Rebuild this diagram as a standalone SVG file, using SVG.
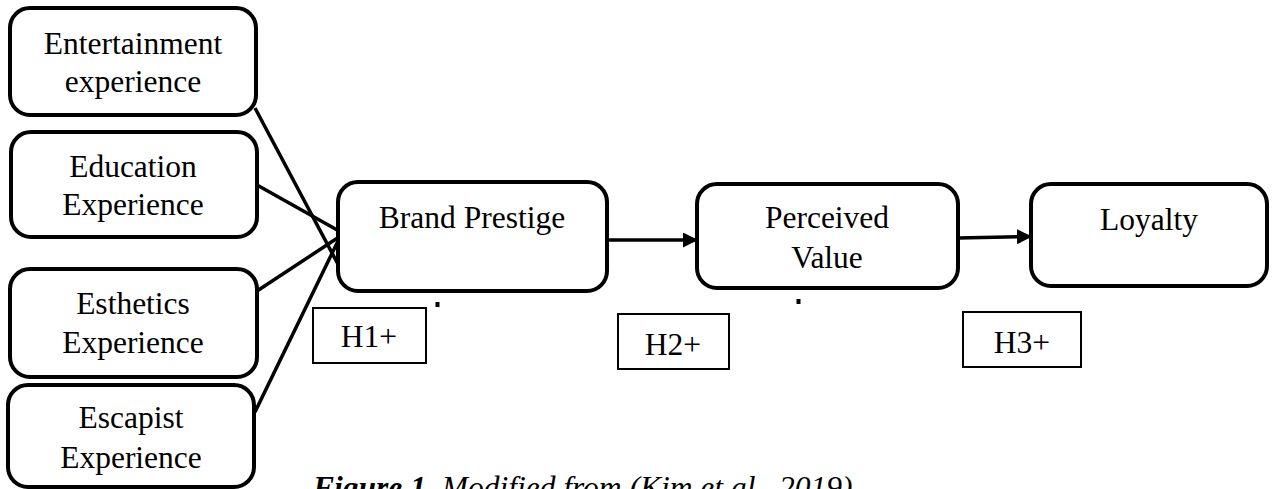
<svg xmlns="http://www.w3.org/2000/svg" width="1273" height="489" viewBox="0 0 1273 489">
<style>
.node{fill:#fff;stroke:#000;stroke-width:4}
.hbox{fill:#fff;stroke:#000;stroke-width:2}
.t{font-family:"Liberation Serif","Times New Roman",serif;font-size:31.5px;fill:#000;text-anchor:middle}
.c{font-family:"Liberation Serif","Times New Roman",serif;font-size:31.5px;fill:#000;font-style:italic}
.ln{stroke:#000;stroke-width:3.5;fill:none}
</style>
<defs>
<marker id="ah" markerWidth="15" markerHeight="15" refX="14" refY="7.5" orient="auto" markerUnits="userSpaceOnUse">
<path d="M0,0 L15,7.5 L0,15 Z" fill="#000"/>
</marker>
</defs>
<rect width="1273" height="489" fill="#fff"/>
<g id="connectors">
<line class="ln" x1="255" y1="108" x2="340" y2="268"/>
<line class="ln" x1="257" y1="185" x2="339" y2="231"/>
<line class="ln" x1="257" y1="291" x2="339" y2="237"/>
<line class="ln" x1="255" y1="412" x2="339" y2="239"/>
<line class="ln" x1="607" y1="240" x2="697" y2="240" marker-end="url(#ah)"/>
<line class="ln" x1="958" y1="238" x2="1031" y2="236.5" marker-end="url(#ah)"/>
</g>
<g id="entertainment">
<rect class="node" x="10" y="8" width="246" height="107" rx="20"/>
<text class="t" x="133" y="54">Entertainment</text>
<text class="t" x="133" y="92">experience</text>
</g>
<g id="education">
<rect class="node" x="11" y="132" width="246" height="105" rx="20"/>
<text class="t" x="133" y="177">Education</text>
<text class="t" x="133" y="215">Experience</text>
</g>
<g id="esthetics">
<rect class="node" x="10" y="269" width="247" height="108" rx="20"/>
<text class="t" x="133" y="314">Esthetics</text>
<text class="t" x="133" y="353">Experience</text>
</g>
<g id="escapist">
<rect class="node" x="8" y="385" width="246" height="102" rx="20"/>
<text class="t" x="131" y="428">Escapist</text>
<text class="t" x="131" y="468">Experience</text>
</g>
<g id="brand-prestige">
<rect class="node" x="338" y="182" width="269" height="109" rx="20"/>
<text class="t" x="472" y="228">Brand Prestige</text>
<rect x="435.5" y="302" width="4" height="5" fill="#000"/>
</g>
<g id="perceived-value">
<rect class="node" x="697" y="184" width="261" height="104" rx="20"/>
<text class="t" x="827" y="228">Perceived</text>
<text class="t" x="827" y="268">Value</text>
<rect x="796.5" y="299" width="4" height="5" fill="#000"/>
</g>
<g id="loyalty">
<rect class="node" x="1031" y="184" width="236" height="102" rx="20"/>
<text class="t" x="1149" y="230">Loyalty</text>
</g>
<g id="h1">
<rect class="hbox" x="313" y="308" width="113" height="55"/>
<text class="t" x="369" y="347">H1+</text>
</g>
<g id="h2">
<rect class="hbox" x="618" y="314" width="111" height="55"/>
<text class="t" x="673" y="355">H2+</text>
</g>
<g id="h3">
<rect class="hbox" x="963" y="312" width="118" height="55"/>
<text class="t" x="1022" y="353">H3+</text>
</g>
<g id="caption">
<text class="c" x="313" y="498"><tspan font-weight="bold">Figure 1.</tspan> Modified from (Kim et al., 2019)</text>
</g>
</svg>
